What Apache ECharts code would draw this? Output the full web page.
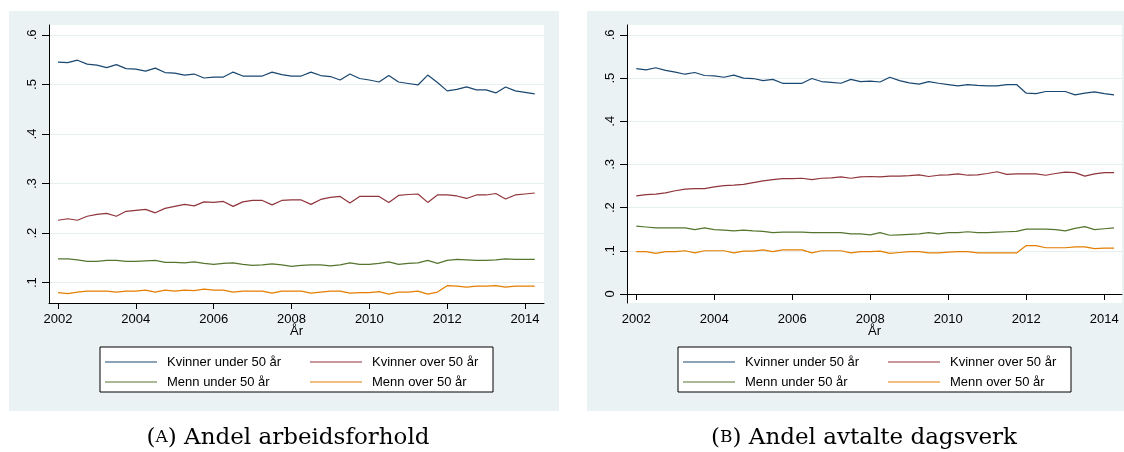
<!DOCTYPE html>
<html>
<head>
<meta charset="utf-8">
<script src="https://cdn.jsdelivr.net/npm/echarts@6/dist/echarts.min.js"></script>
<style>
  html, body { margin: 0; padding: 0; background: #ffffff; }
  #chart { width: 1124px; height: 452px; }
</style>
</head>
<body>
<div id="chart"></div>
<script>
// Quarterly observations, 2002Q1 – 2014Q2
const firstYear = 2002;
const nQuarters = 50;
const quarters = [];
for (let i = 0; i < nQuarters; i++) quarters.push(firstYear + i / 4);

const seriesNames = ['Kvinner under 50 år', 'Kvinner over 50 år', 'Menn under 50 år', 'Menn over 50 år'];
const seriesColors = ['#1a476f', '#90353b', '#55752f', '#e37e00'];

// (A) Andel arbeidsforhold
const aKvinnerUnder = [0.545, 0.544, 0.549, 0.541, 0.539, 0.534, 0.540, 0.532, 0.531, 0.527,
  0.533, 0.524, 0.523, 0.519, 0.521, 0.513, 0.515, 0.515, 0.525, 0.517,
  0.517, 0.517, 0.525, 0.520, 0.517, 0.517, 0.525, 0.518, 0.516, 0.509,
  0.521, 0.512, 0.509, 0.505, 0.518, 0.505, 0.502, 0.499, 0.519, 0.504,
  0.487, 0.490, 0.495, 0.489, 0.489, 0.483, 0.495, 0.487, 0.484, 0.481];
const aKvinnerOver = [0.226, 0.229, 0.226, 0.234, 0.238, 0.240, 0.234, 0.244, 0.246, 0.248,
  0.241, 0.250, 0.254, 0.258, 0.255, 0.263, 0.262, 0.264, 0.254, 0.263,
  0.266, 0.266, 0.257, 0.266, 0.267, 0.267, 0.258, 0.268, 0.272, 0.274,
  0.261, 0.274, 0.274, 0.274, 0.262, 0.276, 0.278, 0.279, 0.262, 0.277,
  0.277, 0.275, 0.270, 0.277, 0.277, 0.280, 0.269, 0.277, 0.279, 0.281];
const aMennUnder = [0.148, 0.148, 0.146, 0.143, 0.143, 0.145, 0.145, 0.143, 0.143, 0.144,
  0.145, 0.141, 0.141, 0.140, 0.142, 0.139, 0.137, 0.139, 0.140, 0.137,
  0.135, 0.136, 0.138, 0.136, 0.133, 0.135, 0.136, 0.136, 0.134, 0.136,
  0.140, 0.137, 0.137, 0.139, 0.142, 0.137, 0.139, 0.140, 0.145, 0.139,
  0.145, 0.147, 0.146, 0.145, 0.145, 0.146, 0.148, 0.147, 0.147, 0.147];
const aMennOver = [0.080, 0.078, 0.081, 0.083, 0.083, 0.083, 0.081, 0.083, 0.083, 0.085,
  0.081, 0.085, 0.083, 0.085, 0.084, 0.087, 0.085, 0.085, 0.081, 0.083,
  0.083, 0.083, 0.079, 0.083, 0.083, 0.083, 0.079, 0.081, 0.083, 0.083,
  0.079, 0.080, 0.080, 0.082, 0.077, 0.081, 0.081, 0.083, 0.077, 0.081,
  0.094, 0.093, 0.091, 0.093, 0.093, 0.094, 0.091, 0.093, 0.093, 0.093];

// (B) Andel avtalte dagsverk
const bKvinnerUnder = [0.522, 0.519, 0.524, 0.518, 0.514, 0.509, 0.513, 0.506, 0.505, 0.502,
  0.507, 0.500, 0.499, 0.494, 0.497, 0.488, 0.488, 0.488, 0.499, 0.492,
  0.490, 0.488, 0.497, 0.492, 0.493, 0.491, 0.502, 0.494, 0.489, 0.486,
  0.492, 0.488, 0.485, 0.482, 0.485, 0.483, 0.482, 0.482, 0.485, 0.485,
  0.465, 0.464, 0.469, 0.469, 0.469, 0.461, 0.465, 0.468, 0.464, 0.461];
const bKvinnerOver = [0.227, 0.230, 0.231, 0.234, 0.239, 0.243, 0.244, 0.244, 0.248, 0.251,
  0.252, 0.254, 0.258, 0.262, 0.265, 0.267, 0.267, 0.268, 0.265, 0.268,
  0.269, 0.271, 0.268, 0.271, 0.272, 0.271, 0.273, 0.273, 0.274, 0.276,
  0.272, 0.275, 0.276, 0.278, 0.275, 0.276, 0.279, 0.283, 0.277, 0.278,
  0.278, 0.278, 0.275, 0.279, 0.282, 0.281, 0.273, 0.278, 0.281, 0.281];
const bMennUnder = [0.157, 0.155, 0.153, 0.153, 0.153, 0.153, 0.149, 0.153, 0.149, 0.148,
  0.146, 0.148, 0.146, 0.145, 0.142, 0.143, 0.143, 0.143, 0.142, 0.142,
  0.142, 0.142, 0.139, 0.139, 0.137, 0.142, 0.136, 0.137, 0.138, 0.139,
  0.142, 0.139, 0.142, 0.142, 0.144, 0.142, 0.142, 0.143, 0.144, 0.145,
  0.150, 0.150, 0.150, 0.149, 0.146, 0.152, 0.156, 0.149, 0.151, 0.153];
const bMennOver = [0.098, 0.098, 0.094, 0.098, 0.098, 0.100, 0.095, 0.100, 0.100, 0.100,
  0.095, 0.099, 0.099, 0.102, 0.098, 0.102, 0.102, 0.102, 0.095, 0.100,
  0.100, 0.100, 0.095, 0.098, 0.098, 0.099, 0.094, 0.096, 0.098, 0.098,
  0.095, 0.095, 0.097, 0.098, 0.098, 0.095, 0.095, 0.095, 0.095, 0.095,
  0.112, 0.112, 0.107, 0.107, 0.107, 0.109, 0.109, 0.105, 0.106, 0.106];

const xTicks = [2002, 2004, 2006, 2008, 2010, 2012, 2014];
const yTicksA = [0.1, 0.2, 0.3, 0.4, 0.5, 0.6];
const yTicksB = [0, 0.1, 0.2, 0.3, 0.4, 0.5, 0.6];

const panelA = [aKvinnerUnder, aKvinnerOver, aMennUnder, aMennOver];
const panelB = [bKvinnerUnder, bKvinnerOver, bMennUnder, bMennOver];

const labelFont = { fontFamily: 'Liberation Sans, Arial, sans-serif', fontSize: 13, color: '#000' };
const axisLineStyle = { color: '#000', width: 1 };
const gridLineColor = '#e6eef0';

function shareLabel(v) {
  const r = Math.round(v * 10) / 10;
  return r === 0 ? '0' : String(r).replace(/^0/, '');
}

function makeXAxis(gridIndex, min, max) {
  return {
    type: 'value', gridIndex, min, max,
    name: 'År', nameLocation: 'middle', nameGap: 22, nameMoveOverlap: false,
    nameTextStyle: labelFont,
    axisLine: { show: true, lineStyle: axisLineStyle },
    axisTick: { show: true, length: 6, lineStyle: axisLineStyle, customValues: xTicks },
    axisLabel: Object.assign({ margin: 10, customValues: xTicks, formatter: v => String(v) }, labelFont),
    splitLine: { show: false }
  };
}

function makeYAxis(gridIndex, min, max, ticks) {
  return {
    type: 'value', gridIndex, min, max,
    axisLine: { show: true, lineStyle: axisLineStyle },
    axisTick: { show: true, length: 7, lineStyle: axisLineStyle, customValues: ticks },
    axisLabel: Object.assign({ margin: 10, rotate: 90, customValues: ticks, formatter: shareLabel }, labelFont),
    splitLine: { show: true, lineStyle: { color: gridLineColor, width: 1 } }
  };
}

function makeSeries(values, k, axisIndex) {
  return {
    name: seriesNames[k],
    type: 'line',
    xAxisIndex: axisIndex, yAxisIndex: axisIndex,
    data: quarters.map((q, i) => [q, values[i]]),
    color: seriesColors[k],
    showSymbol: false,
    symbol: 'none',
    lineStyle: { width: 1.2 },
    emphasis: { disabled: true },
    silent: true
  };
}

function makeLegend(left) {
  return {
    left, top: 347, width: 390,
    orient: 'horizontal',
    padding: [8, 8, 3, 5],
    borderColor: '#000', borderWidth: 1,
    backgroundColor: '#ffffff',
    itemWidth: 52, itemHeight: 1, itemGap: 6,
    icon: 'rect',
    selectedMode: false,
    textStyle: Object.assign({ lineHeight: 14, padding: [0, 0, 0, 5] }, labelFont),
    data: seriesNames.map((n, k) => ({ name: n, textStyle: { width: k % 2 === 0 ? 137 : 113 } }))
  };
}

function caption(x, letter, text) {
  return {
    type: 'text', x, y: 438,
    style: {
      text: '{p|(}{sc|' + letter + '}{p|) ' + text + '}',
      rich: {
        p: { fontFamily: 'DejaVu Serif, serif', fontSize: 23, fill: '#000' },
        sc: { fontFamily: 'DejaVu Serif, serif', fontSize: 17, fill: '#000' }
      },
      align: 'center', verticalAlign: 'middle'
    }
  };
}

const chart = echarts.init(document.getElementById('chart'), null, { renderer: 'canvas' });
chart.setOption({
  animation: false,
  backgroundColor: '#ffffff',
  graphic: [
    { type: 'rect', z: -100, shape: { x: 9, y: 11, width: 550, height: 400 }, style: { fill: '#eaf2f3' } },
    { type: 'rect', z: -100, shape: { x: 587, y: 11, width: 537, height: 400 }, style: { fill: '#eaf2f3' } },
    caption(288, 'A', 'Andel arbeidsforhold'),
    caption(864, 'B', 'Andel avtalte dagsverk')
  ],
  grid: [
    { left: 49, top: 25, width: 495, height: 278, show: true, backgroundColor: '#ffffff', borderWidth: 0 },
    { left: 627, top: 25, width: 495, height: 278, show: true, backgroundColor: '#ffffff', borderWidth: 0 }
  ],
  xAxis: [makeXAxis(0, 2001.769, 2014.488), makeXAxis(1, 2001.762, 2014.454)],
  yAxis: [makeYAxis(0, 0.059, 0.620, yTicksA), makeYAxis(1, -0.021, 0.623, yTicksB)],
  legend: [makeLegend(100), makeLegend(678)],
  series: panelA.map((v, k) => makeSeries(v, k, 0)).concat(panelB.map((v, k) => makeSeries(v, k, 1)))
});
</script>
</body>
</html>
